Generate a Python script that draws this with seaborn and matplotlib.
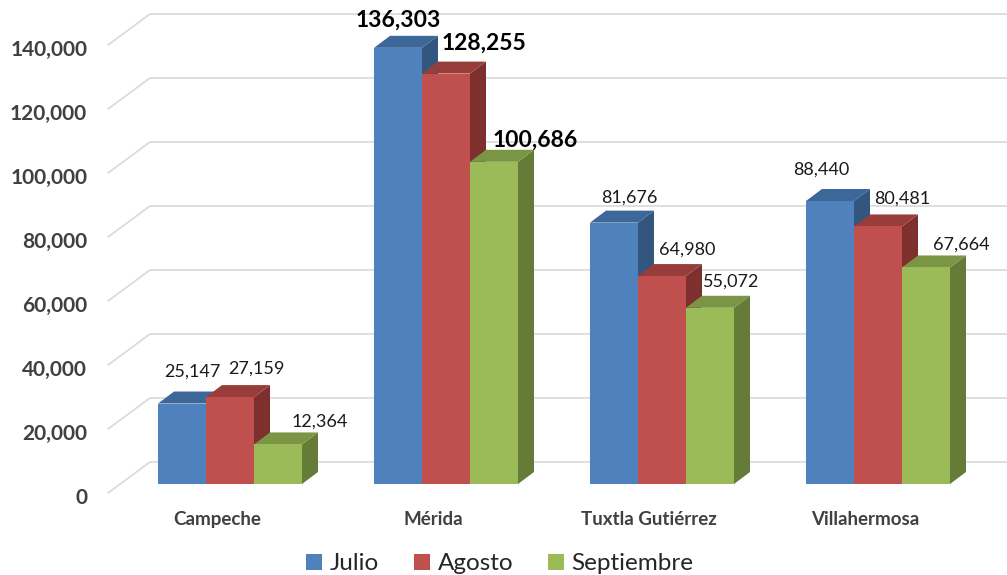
import matplotlib
matplotlib.use("Agg")
import pandas as pd
import matplotlib.pyplot as plt
import seaborn as sns
from matplotlib.patches import Polygon, Patch
from matplotlib import transforms

# data
ciudades = ["Campeche", "Mérida", "Tuxtla Gutiérrez", "Villahermosa"]
meses = ["Julio", "Agosto", "Septiembre"]
julio = [25147, 136303, 81676, 88440]
agosto = [27159, 128255, 64980, 80481]
septiembre = [12364, 100686, 55072, 67664]
ticks = [0, 20000, 40000, 60000, 80000, 100000, 120000, 140000]

df = pd.DataFrame({
    "ciudad": ciudades * 3,
    "mes": [m for m in meses for _ in ciudades],
    "valor": julio + agosto + septiembre,
})

# label nudges in pixels (right, up), per month then city
label_shift = [
    [(2, 2.5), (-8, -1), (7, -4), (-17, 2)],
    [(18, -1), (30, 1.6), (17, -3), (16, -1.5)],
    [(34, -6), (33, -7), (13, -3), (27, -6.5)],
]
big_labels = ["Mérida"]

colors = ["#4F81BD", "#C0504D", "#9BBB59"]
tops = ["#3D6799", "#983D3A", "#7A9645"]
sides = ["#33567F", "#7E302E", "#657B38"]

W, H = 1007, 575
PX = 312.5      # value units per pixel
UX = 1 / 216    # category units per pixel
lift = 9 * PX   # bars sit a bit behind the front plane
bdx, bdy = 16 * UX, 12 * PX   # bar depth
wdx, wdy = 42 * UX, 31 * PX   # floor depth

sns.set_theme(style="white")
plt.rcParams["font.family"] = ["Lato", "DejaVu Sans"]

fig = plt.figure(figsize=(W / 100, H / 100), dpi=100)
ax = fig.add_axes([108 / W, 82 / H, 899 / W, 493 / H])

sns.barplot(data=df, x="ciudad", y="valor", hue="mes", order=ciudades,
            hue_order=meses, palette=colors, width=2 / 3, saturation=1,
            errorbar=None, legend=False, linewidth=0, ax=ax)

xmin = (108 - 230) * UX
xmax = xmin + 899 * UX
ax.set_xlim(xmin, xmax)
ax.set_ylim(0, 493 * PX)

# back wall gridlines
for v in ticks:
    ax.plot([xmin, xmin + wdx, xmax], [v, v + wdy, v + wdy],
            color="#D9D9D9", lw=1.2, zorder=1, clip_on=False)

# fake 3d bars
info = []
for k, p in enumerate(ax.patches):
    info.append((p, k // len(ciudades), k % len(ciudades)))
info.sort(key=lambda t: t[0].get_x())

for i, (p, m, c) in enumerate(info):
    h = p.get_height()
    x0 = p.get_x()
    x1 = x0 + p.get_width()
    p.set_y(lift)
    p.set_zorder(3 + 3 * i + 2)
    y1 = lift + h
    side = Polygon([(x1, lift), (x1, y1), (x1 + bdx, y1 + bdy), (x1 + bdx, lift + bdy)],
                   closed=True, facecolor=sides[m], edgecolor="none", zorder=3 + 3 * i)
    top = Polygon([(x0, y1), (x1, y1), (x1 + bdx, y1 + bdy), (x0 + bdx, y1 + bdy)],
                  closed=True, facecolor=tops[m], edgecolor="none", zorder=3 + 3 * i + 1)
    ax.add_patch(side)
    ax.add_patch(top)

    ox, oy = label_shift[m][c]
    big = ciudades[c] in big_labels
    ax.annotate(f"{int(h):,}", xy=((x0 + x1) / 2, y1),
                xytext=((8 + ox) * 0.72, (29 + oy) * 0.72), textcoords="offset points",
                ha="center", va="center", fontsize=16.5 if big else 13,
                fontweight="bold" if big else "normal",
                color="#000000" if big else "#1A1A1A", zorder=200)

ax.set_yticks(ticks)
ax.set_yticklabels([f"{v:,}" for v in ticks])
ax.tick_params(axis="y", length=0, pad=15, labelsize=15, labelcolor="#404040")
ax.tick_params(axis="x", length=0, pad=13, labelsize=13.5, labelcolor="#404040")
off_y = transforms.ScaledTranslation(0, -3 / 100, fig.dpi_scale_trans)
for lab in ax.get_yticklabels():
    lab.set_fontweight("bold")
    lab.set_transform(lab.get_transform() + off_y)
off_x = transforms.ScaledTranslation(-13 / 100, 0, fig.dpi_scale_trans)
for lab in ax.get_xticklabels():
    lab.set_fontweight("bold")
    lab.set_transform(lab.get_transform() + off_x)

ax.set_xlabel("")
ax.set_ylabel("")
sns.despine(ax=ax, left=True, bottom=True)
ax.grid(False)

handles = [Patch(facecolor=c, edgecolor="none") for c in colors]
fig.legend(handles, meses, loc="center", bbox_to_anchor=(500 / W, 11 / H), ncol=3,
           frameon=False, fontsize=17.5, handlelength=0.66, handleheight=0.66,
           handletextpad=0.3, columnspacing=1.45)

fig.savefig("out.png", dpi=100)
plt.close()
